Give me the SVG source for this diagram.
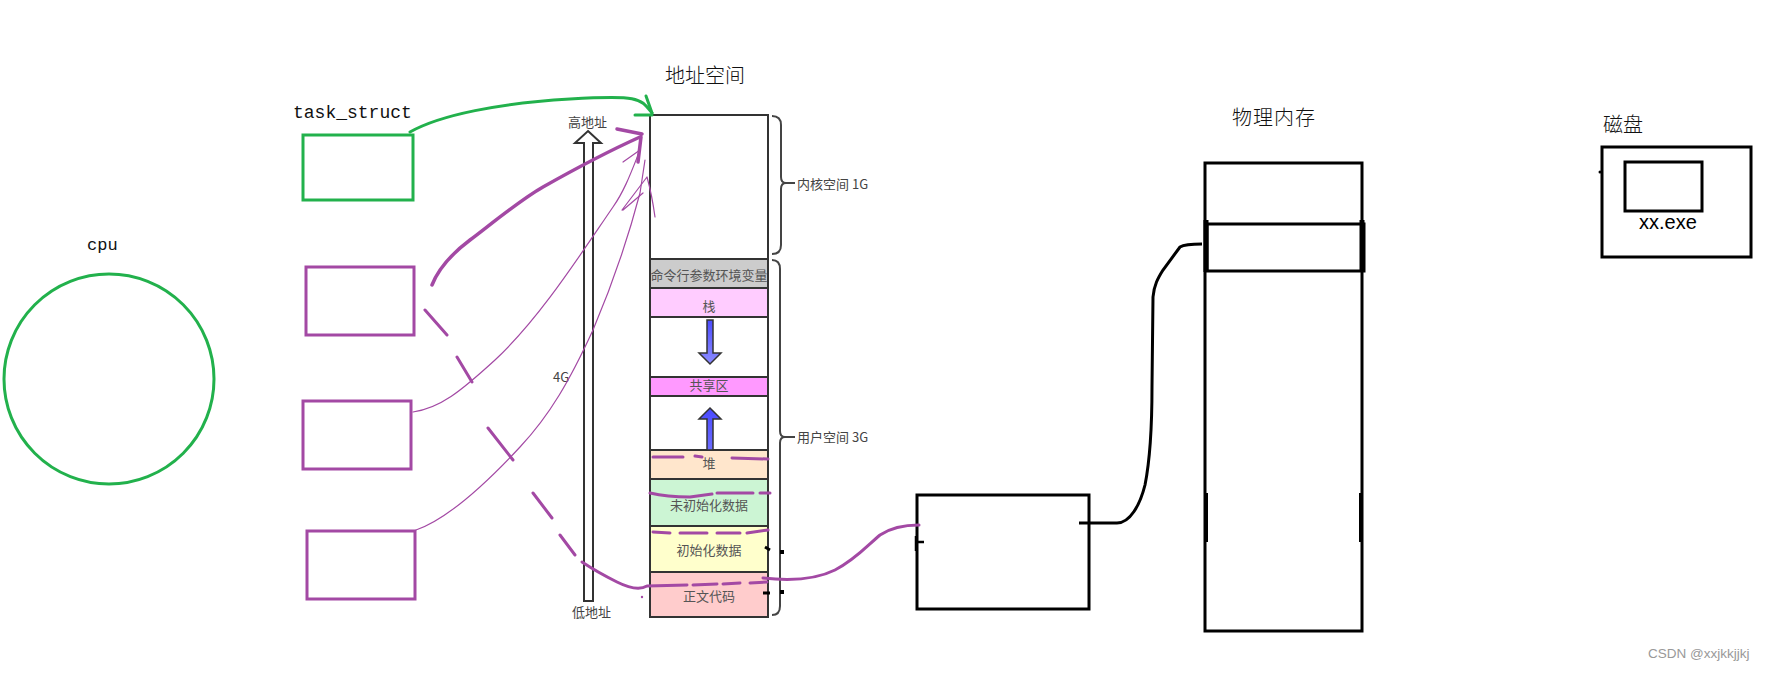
<svg xmlns="http://www.w3.org/2000/svg" width="1769" height="673" viewBox="0 0 1769 673">
<defs>
<style>
.g{stroke:#22b14c;stroke-width:3;fill:none}
.pr{stroke:#a349a4;stroke-width:3;fill:none}
.p{stroke:#a349a4;fill:none;stroke-linecap:round;stroke-linejoin:round}
.k{stroke:#000;stroke-width:3;fill:none}
.sec{stroke:#333;stroke-width:2}
.lbl{font-family:"Noto Sans CJK SC",sans-serif;font-size:13px;fill:#555;text-anchor:middle}
.side{font-family:"Noto Sans CJK SC",sans-serif;font-size:13px;fill:#444}
.title{font-family:"Noto Sans CJK SC",sans-serif;font-size:20px;font-weight:300;fill:#111}
.mono{font-family:"Liberation Mono",monospace;fill:#111}
.brace{stroke:#444;stroke-width:2;fill:none}
</style>
<linearGradient id="bd" x1="0" y1="0" x2="0" y2="1"><stop offset="0" stop-color="#4b4bff"/><stop offset="1" stop-color="#8c8cff"/></linearGradient>
<linearGradient id="bu" x1="0" y1="0" x2="0" y2="1"><stop offset="0" stop-color="#4b4bff"/><stop offset="1" stop-color="#6b6bff"/></linearGradient>
</defs>
<rect width="1769" height="673" fill="#fff"/>

<g id="cpu">
<text class="mono" x="87" y="250" font-size="17">cpu</text>
<circle class="g" cx="109" cy="379" r="105"/>
</g>

<g id="task_struct">
<text class="mono" x="293" y="118" font-size="18">task_struct</text>
<rect class="g" x="303" y="135" width="110" height="65"/>
</g>
<g id="proc2"><rect class="pr" x="306" y="267" width="108" height="68"/></g>
<g id="proc3"><rect class="pr" x="303" y="401" width="108" height="68"/></g>
<g id="proc4"><rect class="pr" x="307" y="531" width="108" height="68"/></g>

<g id="address_space">
<text class="title" x="665" y="83">地址空间</text>
<rect class="sec" x="650" y="115" width="118" height="144" fill="#fff"/>
<rect class="sec" x="650" y="259" width="118" height="29" fill="#cccccc"/>
<rect class="sec" x="650" y="288" width="118" height="29" fill="#ffccff"/>
<rect class="sec" x="650" y="317" width="118" height="60" fill="#fff"/>
<rect class="sec" x="650" y="377" width="118" height="19" fill="#ff99ff"/>
<rect class="sec" x="650" y="396" width="118" height="54" fill="#fff"/>
<rect class="sec" x="650" y="450" width="118" height="29" fill="#ffe6cc"/>
<rect class="sec" x="650" y="479" width="118" height="47" fill="#ccf5d4"/>
<rect class="sec" x="650" y="526" width="118" height="46" fill="#ffffcc"/>
<rect class="sec" x="650" y="572" width="118" height="45" fill="#ffcccc"/>
<text class="lbl" x="709" y="280">命令行参数环境变量</text>
<text class="lbl" x="709" y="311">栈</text>
<text class="lbl" x="709" y="390" fill="#333">共享区</text>
<text class="lbl" x="709" y="468">堆</text>
<text class="lbl" x="709" y="510">未初始化数据</text>
<text class="lbl" x="709" y="555">初始化数据</text>
<text class="lbl" x="709" y="601">正文代码</text>
<path d="M707,320 h6 v33 h8 l-11,11 l-11,-11 h8 z" fill="url(#bd)" stroke="#333" stroke-width="1.5"/>
<path d="M710,408 l11,11 h-8 v31 h-6 v-31 h-8 z" fill="url(#bu)" stroke="#333" stroke-width="1.5"/>
<path class="brace" d="M772,116 q9,0 9,9 v52 q0,6 5,6 h9 M786,183 q-5,0 -5,6 v56 q0,9 -9,9"/>
<path class="brace" d="M772,260 q8,0 8,9 v162 q0,6 5,6 h10 M785,437 q-5,0 -5,6 v163 q0,9 -8,9"/>
<text class="side" x="797" y="189">内核空间 1G</text>
<text class="side" x="797" y="442">用户空间 3G</text>
<path d="M588,131 L601,143 L593,143 L593,601 L584,601 L584,143 L575,143 Z" fill="#fff" stroke="#333" stroke-width="2"/>
<text class="side" x="568" y="127">高地址</text>
<text class="side" x="553" y="382">4G</text>
<text class="side" x="572" y="617">低地址</text>
</g>

<g id="page_table">
<rect class="k" x="917" y="495" width="172" height="114"/>
</g>

<g id="physical_memory">
<text class="title" x="1232" y="125" letter-spacing="1">物理内存</text>
<rect class="k" x="1205" y="163" width="157" height="468"/>
<rect class="k" x="1207" y="224" width="157" height="47"/>
<path d="M1206,220 V272 M1362,220 V272" stroke="#000" stroke-width="5"/>
<path d="M1206,493 V542 M1361,493 V542" stroke="#000" stroke-width="4"/>
</g>

<g id="disk">
<text class="title" x="1603" y="132">磁盘</text>
<rect class="k" x="1602" y="147" width="149" height="110"/>
<rect class="k" x="1625" y="162" width="77" height="49"/>
<text x="1639" y="229" font-family="Liberation Sans,Arial,sans-serif" font-size="20" fill="#000">xx.exe</text>
<circle cx="1600" cy="172" r="1.5" fill="#000"/>
</g>

<g id="connectors">
<path class="g" stroke-linecap="round" d="M410,132 C440,115 500,103 570,99 S640,98 652,113"/>
<path class="g" stroke-linecap="round" d="M635,115 H652 M646,96 L652,113"/>
<path class="p" stroke-width="3.5" d="M432,285 C438,270 450,255 470,240 S520,200 543,187 S600,155 640,137"/>
<path class="p" stroke-width="3.5" d="M617,129 L642,134 M638,162 L641,137"/>
<path class="p" stroke-width="1.2" d="M413,412 C440,408 460,392 495,360 C540,318 580,255 613,207 C625,190 632,170 640,150"/>
<path class="p" stroke-width="1.2" d="M416,530 C445,520 480,490 520,447 C550,415 570,380 593,330 C610,290 625,250 640,193 L645,160"/>
<path class="p" stroke-width="1.2" d="M623,162 L640,150 M622,210 L647,177 M647,177 Q652,195 655,217 M623,210 L643,193"/>
<path class="p" stroke-width="3" d="M425,310 L447,335 M457,357 L472,382 M488,428 L513,460 M533,493 L552,518 M560,535 L575,555 M582,562 Q597,572 617,582 T647,586 L687,585 M693,585 L717,584 M723,584 L740,583 M750,583 L767,582"/>
<path class="p" stroke-width="3" d="M653,457 L683,457 M695,456 L702,457 M732,458 L768,459"/>
<path class="p" stroke-width="3" d="M650,493 Q667,497 690,497 L712,494 M717,493 L753,493 M760,493 L770,493"/>
<path class="p" stroke-width="3" d="M653,532 L670,533 M680,533 L707,533 M717,533 L740,533 M747,533 L768,530"/>
<path class="p" stroke-width="3" d="M763,578 C790,581 815,580 835,570 C855,560 868,545 880,535 C892,527 905,525 919,525"/>
<circle cx="642" cy="597" r="1.2" fill="#a349a4"/>
<path d="M765,547 L770,550 M763,593 H770" stroke="#000" stroke-width="3"/>
<rect x="780" y="550" width="4" height="4" fill="#000"/>
<rect x="780" y="590" width="4" height="4" fill="#000"/>
<path d="M916,536 V551 M916,542 H924" stroke="#000" stroke-width="2.5"/>
<path class="k" d="M1079,523 H1117 C1130,523 1140,505 1145,485 C1150,460 1152,420 1152,386 L1153,297 C1154,285 1158,278 1163,270 L1180,247 C1185,244 1195,244 1202,244"/>
</g>

<text x="1648" y="658" font-family="Liberation Sans,Arial,sans-serif" font-size="13.5" fill="#999">CSDN @xxjkkjjkj</text>
</svg>
